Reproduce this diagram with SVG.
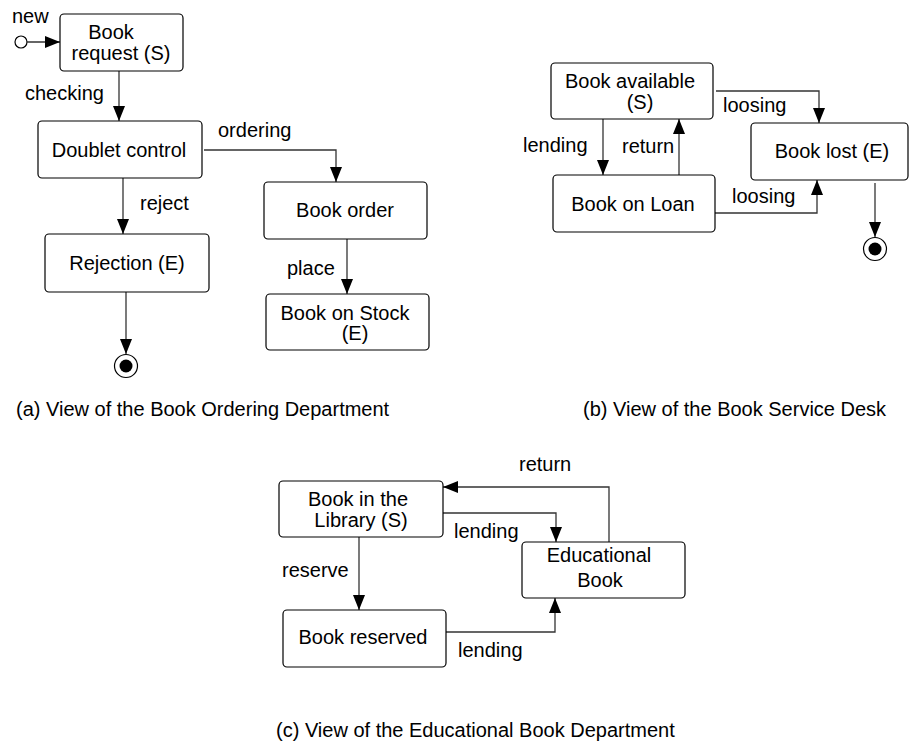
<svg xmlns="http://www.w3.org/2000/svg" width="911" height="744" viewBox="0 0 911 744">
<style>
.box{fill:#fff;stroke:#000;stroke-width:1.2}
.t{font-family:"Liberation Sans",Arial,sans-serif;font-size:20px;fill:#000}
.m{text-anchor:middle}
.c{fill:none;stroke:#333;stroke-width:1.3}
</style>
<defs>
<marker id="ah" markerUnits="userSpaceOnUse" markerWidth="15" markerHeight="12" refX="15" refY="6" orient="auto">
<path d="M0,0 L15,6 L0,12 z" fill="#000"/>
</marker>
</defs>
<rect width="911" height="744" fill="#fff"/>

<g id="connectors">
<circle cx="21" cy="42" r="6" fill="#fff" stroke="#000" stroke-width="1.2"/>
<path class="c" d="M27,42 H60" marker-end="url(#ah)"/>
<path class="c" d="M119,71 V121" marker-end="url(#ah)"/>
<path class="c" d="M204,150 H336 V182" marker-end="url(#ah)"/>
<path class="c" d="M123,178 V234" marker-end="url(#ah)"/>
<path class="c" d="M347,239 V294" marker-end="url(#ah)"/>
<path class="c" d="M126,292 V354" marker-end="url(#ah)"/>
<path class="c" d="M603,119 V175" marker-end="url(#ah)"/>
<path class="c" d="M679,175 V119" marker-end="url(#ah)"/>
<path class="c" d="M716,91 H819 V123" marker-end="url(#ah)"/>
<path class="c" d="M715,213 H817 V180" marker-end="url(#ah)"/>
<path class="c" d="M875,183 V237" marker-end="url(#ah)"/>
<path class="c" d="M609,542 V487 H443" marker-end="url(#ah)"/>
<path class="c" d="M443,513 H556 V542" marker-end="url(#ah)"/>
<path class="c" d="M359,537 V610" marker-end="url(#ah)"/>
<path class="c" d="M446,632 H555 V598" marker-end="url(#ah)"/>
<text class="t" x="12" y="23">new</text>
<text class="t" x="25" y="100">checking</text>
<text class="t" x="218" y="137">ordering</text>
<text class="t" x="140" y="210">reject</text>
<text class="t" x="287" y="275">place</text>
<text class="t" x="523" y="152">lending</text>
<text class="t" x="622" y="153">return</text>
<text class="t" x="723" y="112">loosing</text>
<text class="t" x="732" y="203">loosing</text>
<text class="t" x="519" y="471">return</text>
<text class="t" x="454" y="538">lending</text>
<text class="t" x="282" y="577">reserve</text>
<text class="t" x="458" y="657">lending</text>
</g>

<g id="final-a"><circle cx="126" cy="366" r="11.5" fill="#fff" stroke="#000" stroke-width="1.2"/><circle cx="126" cy="366" r="6.5" fill="#000"/></g>
<g id="final-b"><circle cx="875" cy="249" r="11.5" fill="#fff" stroke="#000" stroke-width="1.2"/><circle cx="875" cy="249" r="6.5" fill="#000"/></g>

<g id="book-request"><rect class="box" x="60" y="14" width="123" height="57" rx="4"/><text class="t m" x="111" y="39">Book</text><text class="t m" x="121" y="60">request (S)</text></g>
<g id="doublet-control"><rect class="box" x="38" y="121" width="164" height="57" rx="4"/><text class="t m" x="119" y="157">Doublet control</text></g>
<g id="book-order"><rect class="box" x="264" y="182" width="163" height="57" rx="4"/><text class="t m" x="345" y="217">Book order</text></g>
<g id="rejection"><rect class="box" x="45" y="234" width="164" height="58" rx="4"/><text class="t m" x="127" y="270">Rejection (E)</text></g>
<g id="book-on-stock"><rect class="box" x="266" y="294" width="163" height="56" rx="4"/><text class="t m" x="345" y="320">Book on Stock</text><text class="t m" x="355" y="340">(E)</text></g>

<g id="book-available"><rect class="box" x="551" y="63" width="162" height="56" rx="4"/><text class="t m" x="630" y="88">Book available</text><text class="t m" x="640" y="109">(S)</text></g>
<g id="book-on-loan"><rect class="box" x="553" y="175" width="162" height="57" rx="4"/><text class="t m" x="633" y="211">Book on Loan</text></g>
<g id="book-lost"><rect class="box" x="751" y="123" width="157" height="57" rx="4"/><text class="t m" x="832" y="158">Book lost (E)</text></g>

<g id="book-in-library"><rect class="box" x="279" y="481" width="164" height="56" rx="4"/><text class="t m" x="358" y="506">Book in the</text><text class="t m" x="361" y="527">Library (S)</text></g>
<g id="educational-book"><rect class="box" x="522" y="542" width="163" height="56" rx="4"/><text class="t m" x="599" y="562">Educational</text><text class="t m" x="600" y="587">Book</text></g>
<g id="book-reserved"><rect class="box" x="283" y="610" width="163" height="57" rx="4"/><text class="t m" x="363" y="644">Book reserved</text></g>

<g id="captions">
<text class="t" x="16" y="416">(a) View of the Book Ordering Department</text>
<text class="t" x="583" y="416">(b) View of the Book Service Desk</text>
<text class="t" x="276" y="737">(c) View of the Educational Book Department</text>
</g>
</svg>
